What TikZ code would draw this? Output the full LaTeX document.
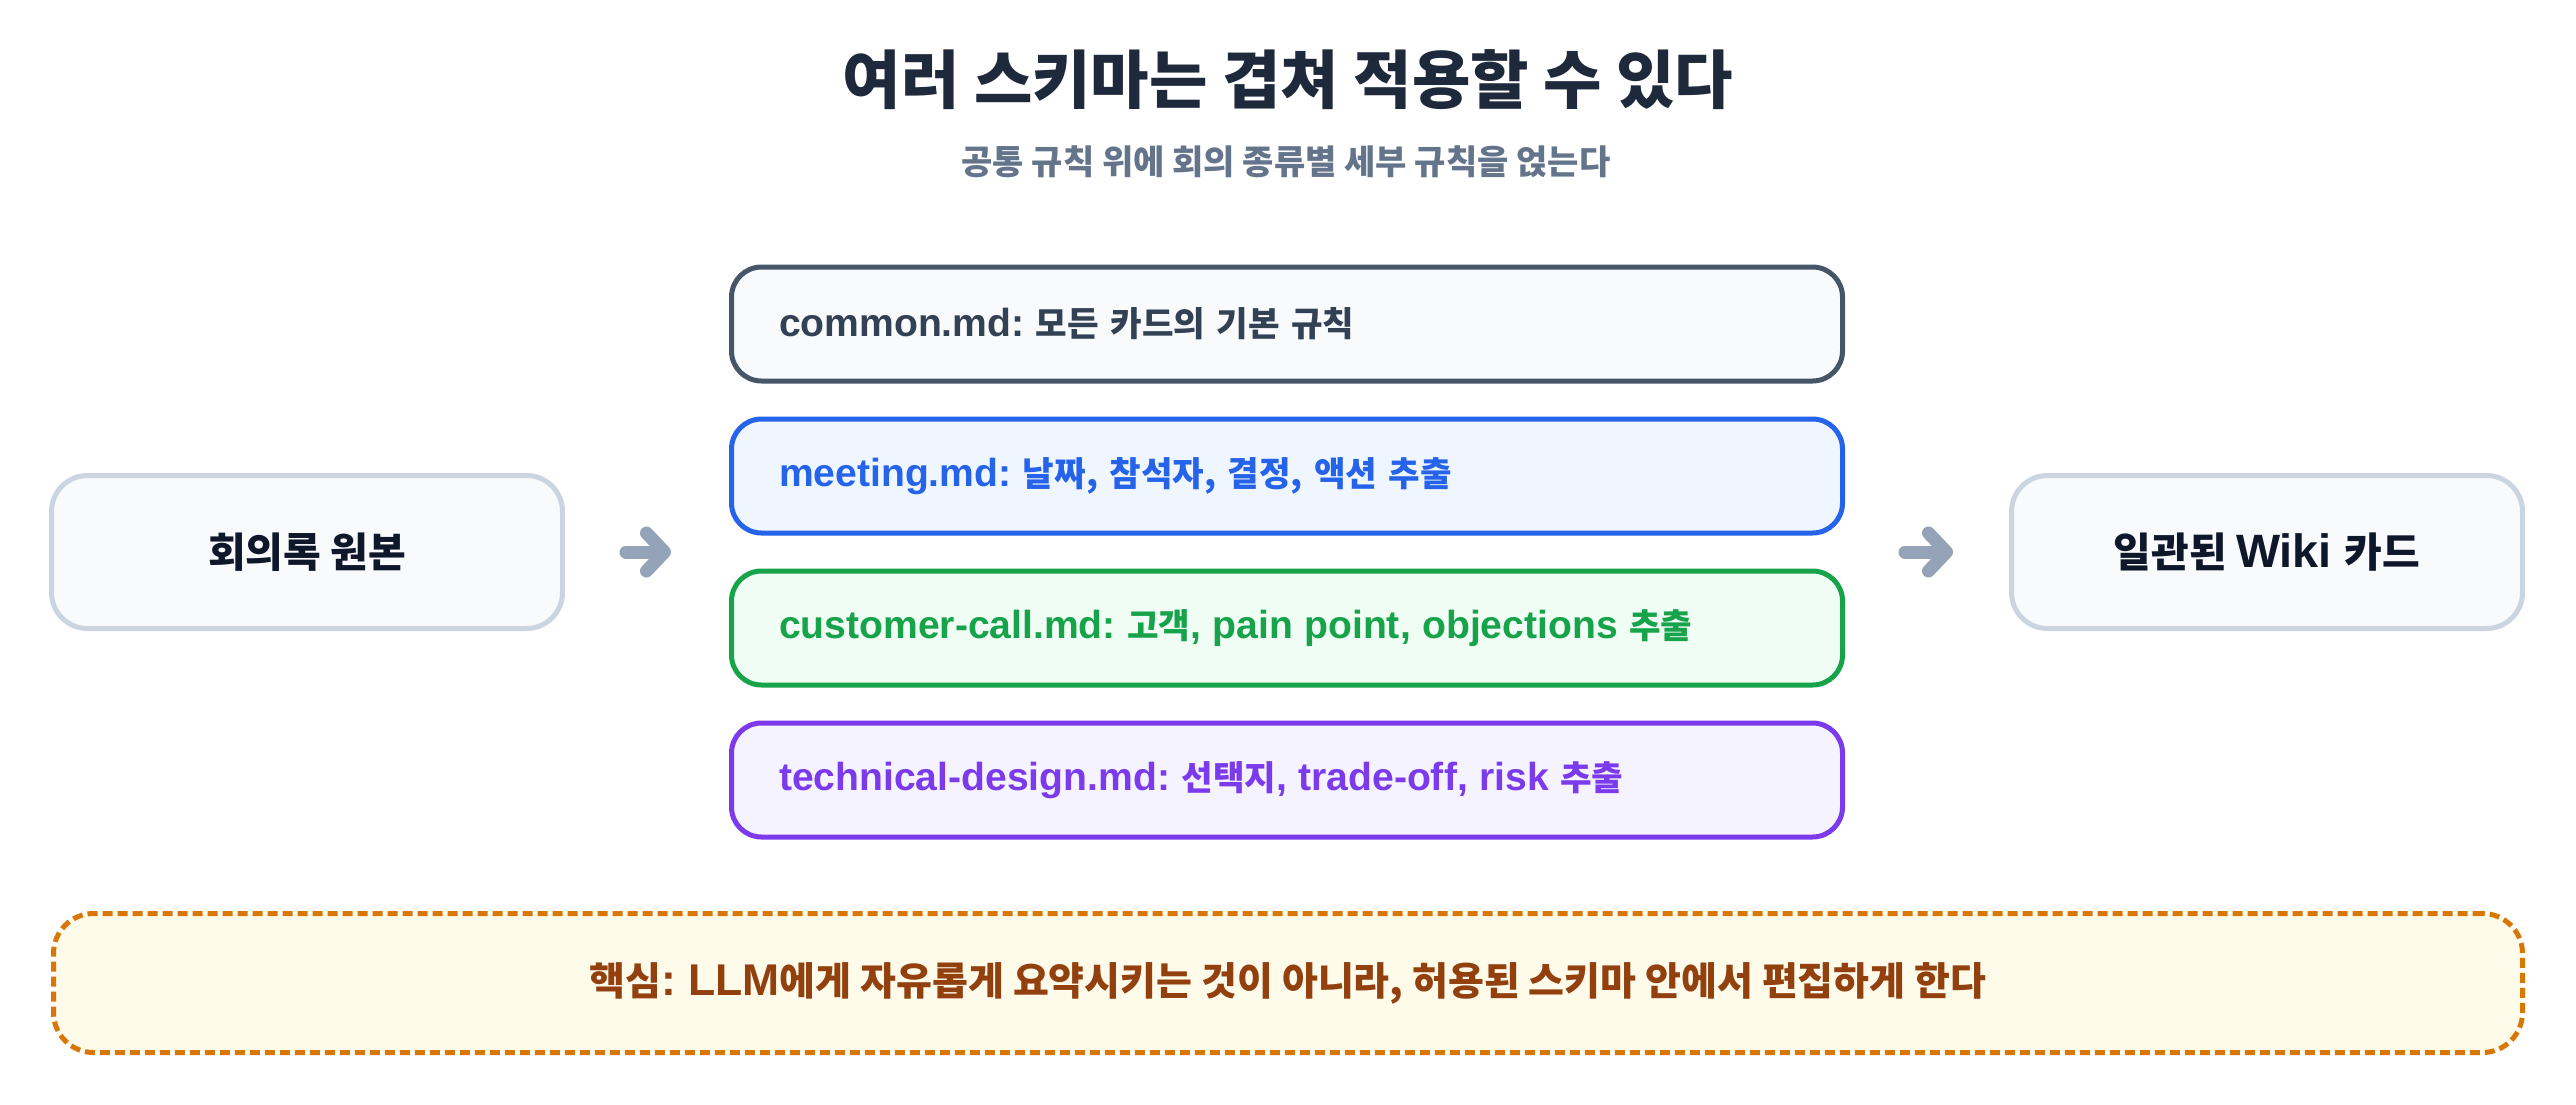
\documentclass[tikz,border=0pt]{standalone}
\usepackage{fontspec}
\setmainfont{Noto Sans CJK KR}
\newfontfamily\lat{Liberation Sans}[Scale=1.14]
\frenchspacing
\usetikzlibrary{arrows.meta}
\definecolor{titlec}{HTML}{1E293B}
\definecolor{subc}{HTML}{64748B}
\definecolor{darkc}{HTML}{0F172A}
\definecolor{sidedraw}{HTML}{CBD5E1}
\definecolor{sidefill}{HTML}{F8FAFC}
\definecolor{comdraw}{HTML}{475569}
\definecolor{comtext}{HTML}{334155}
\definecolor{blu}{HTML}{2563EB}
\definecolor{blufill}{HTML}{EFF6FF}
\definecolor{grn}{HTML}{16A34A}
\definecolor{grnfill}{HTML}{F0FDF4}
\definecolor{vio}{HTML}{7C3AED}
\definecolor{viofill}{HTML}{F5F3FF}
\definecolor{arrc}{HTML}{94A3B8}
\definecolor{notedraw}{HTML}{D97706}
\definecolor{notefill}{HTML}{FFFBEB}
\definecolor{notetext}{HTML}{92400E}
\tikzset{
  titlestyle/.style={inner sep=0pt, text=titlec, font=\fontsize{63.5}{68}\selectfont\bfseries},
  substyle/.style={inner sep=0pt, text=subc, font=\fontsize{34}{40}\selectfont\bfseries},
  schema/.style={rounded corners=30pt, line width=5pt, minimum width=1111pt,
    minimum height=114pt, text width=1016pt, align=left, inner xsep=47.5pt, inner ysep=0pt,
    font=\fontsize{34.3}{40}\selectfont\bfseries},
  sidebox/.style={rounded corners=36pt, line width=5pt, draw=sidedraw, fill=sidefill,
    minimum width=511pt, minimum height=153pt, inner sep=0pt, text=darkc,
    font=\fontsize{41}{48}\selectfont\bfseries},
  notebox/.style={rounded corners=40pt, line width=5pt, draw=notedraw, fill=notefill,
    dash pattern=on 10pt off 5pt, minimum width=2469pt, minimum height=139pt, inner sep=0pt,
    text=notetext, font=\fontsize{39}{44}\selectfont\bfseries},
  flow/.style={draw=arrc, line width=13pt, line cap=round,
    -{Straight Barb[length=18pt,width=38pt,round]}}
}
\begin{document}
\begin{tikzpicture}[x=1pt,y=-1pt]
\useasboundingbox[fill=white] (0,0) rectangle (2576,1104);

\node[titlestyle] (title) at (1288,80) {여러 스키마는 겹쳐 적용할 수 있다};
\node[substyle] (sub) at (1286,162) {공통 규칙 위에 회의 종류별 세부 규칙을 얹는다};

\node[schema, draw=comdraw, fill=sidefill, text=comtext] (common) at (1287,324)
  {{\lat common.md: }모든 카드의 기본 규칙};
\node[schema, draw=blu, fill=blufill, text=blu] (meeting) at (1287,476)
  {{\lat meeting.md: }날짜, 참석자, 결정, 액션 추출};
\node[schema, draw=grn, fill=grnfill, text=grn] (customer) at (1287,628)
  {{\lat customer-call.md: }고객{\lat , pain point, objections }추출};
\node[schema, draw=vio, fill=viofill, text=vio] (technical) at (1287,780)
  {{\lat technical-design.md: }선택지{\lat , trade-off, risk }추출};

\node[sidebox] (raw) at (307,552) {회의록 원본};
\node[sidebox] (wiki) at (2267,552) {일관된 {\lat Wiki }카드};

\draw[flow, shorten <=61pt, shorten >=58pt] (raw.east) -- (raw.east -| meeting.west);
\draw[flow, shorten <=60pt, shorten >=56pt] (wiki.west -| meeting.east) -- (wiki.west);

\node[notebox] (note) at (1288,983)
  {핵심{\lat : LLM}에게 자유롭게 요약시키는 것이 아니라, 허용된 스키마 안에서 편집하게 한다};
\end{tikzpicture}
\end{document}
